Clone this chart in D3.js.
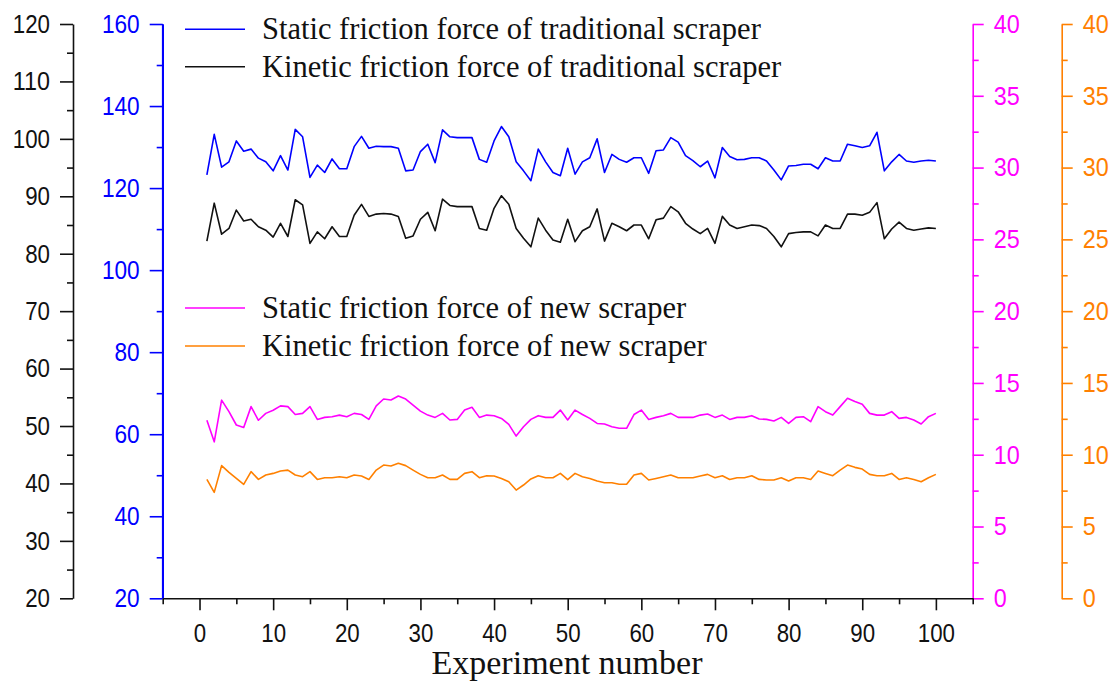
<!DOCTYPE html>
<html><head><meta charset="utf-8">
<script src="https://cdn.jsdelivr.net/npm/d3@7"></script>
<style>
body{margin:0;background:#fff;}
svg{display:block;}
</style></head>
<body><svg id="chart" width="1116" height="681"></svg>
<script>
const experiments = d3.range(1, 101);
const staticTrad = [123.2,133.1,125.1,126.4,131.5,129.0,129.5,127.3,126.4,124.2,127.9,124.4,134.3,132.5,122.6,125.6,123.8,127.1,124.7,124.7,
130.1,132.6,129.7,130.2,130.1,130.1,129.7,124.2,124.4,128.9,130.7,126.2,134.2,132.5,132.3,132.3,132.3,127.0,126.3,131.5,
135.0,132.5,126.4,124.2,121.8,129.5,126.4,123.8,123.0,129.7,123.4,126.4,127.4,132.0,123.8,128.2,127.0,126.3,127.4,127.4,
123.6,129.1,129.3,132.3,131.2,127.9,126.7,125.2,126.6,122.5,129.9,127.7,126.9,127.0,127.4,127.4,126.6,124.4,122.0,125.4,
125.5,125.8,125.8,124.7,127.4,126.6,126.6,130.7,130.3,129.9,130.3,133.6,124.2,126.4,128.2,126.6,126.3,126.6,126.8,126.6];
const kineticTrad = [82.2,88.8,83.4,84.4,87.6,85.7,86.0,84.7,84.1,82.9,85.3,83.0,89.4,88.5,81.8,83.8,82.6,84.7,83.0,83.0,
86.7,88.6,86.5,86.9,87.0,86.9,86.5,82.7,83.1,86.0,87.2,84.0,89.5,88.4,88.2,88.2,88.2,84.4,84.1,87.9,
90.1,88.6,84.4,82.7,81.2,86.2,84.1,82.4,82.0,86.0,82.1,84.0,84.7,87.8,82.2,85.3,84.7,84.0,85.0,85.0,
82.6,85.9,86.2,88.2,87.3,85.3,84.3,83.5,84.4,81.8,86.5,85.0,84.4,84.7,85.0,84.9,84.4,83.0,81.2,83.5,
83.7,83.8,83.8,83.1,85.0,84.4,84.4,86.9,86.9,86.7,87.2,88.9,82.6,84.3,85.5,84.4,84.1,84.3,84.5,84.4];
const staticNew = [12.4,10.9,13.8,13.0,12.07,11.9,13.35,12.4,12.88,13.1,13.4,13.35,12.8,12.88,13.35,12.46,12.6,12.65,12.76,12.65,
12.88,12.8,12.46,13.4,13.88,13.81,14.09,13.88,13.46,13.04,12.76,12.6,12.88,12.42,12.46,13.11,13.3,12.6,12.76,12.72,
12.53,12.11,11.3,11.95,12.46,12.72,12.6,12.6,13.11,12.42,13.11,12.8,12.53,12.18,12.14,11.95,11.84,11.84,12.8,13.11,
12.46,12.6,12.72,12.88,12.6,12.6,12.6,12.76,12.84,12.6,12.76,12.46,12.6,12.6,12.72,12.49,12.46,12.35,12.6,12.18,
12.6,12.65,12.3,13.35,13.0,12.76,13.35,13.93,13.7,13.51,12.88,12.76,12.76,13.0,12.53,12.6,12.42,12.14,12.65,12.88];
const kineticNew = [8.28,7.38,9.24,8.77,8.35,7.94,8.82,8.28,8.59,8.7,8.87,8.93,8.59,8.47,8.82,8.28,8.4,8.4,8.47,8.4,
8.59,8.52,8.28,8.93,9.28,9.21,9.4,9.24,8.93,8.63,8.4,8.4,8.59,8.28,8.28,8.7,8.82,8.4,8.54,8.52,
8.35,8.12,7.54,7.89,8.31,8.54,8.4,8.4,8.7,8.26,8.7,8.47,8.35,8.17,8.05,8.05,7.94,7.94,8.59,8.7,
8.24,8.35,8.47,8.59,8.4,8.4,8.4,8.52,8.63,8.4,8.54,8.28,8.4,8.4,8.54,8.28,8.24,8.24,8.4,8.17,
8.4,8.4,8.28,8.87,8.7,8.54,8.93,9.28,9.12,9.0,8.63,8.54,8.54,8.7,8.28,8.4,8.28,8.12,8.4,8.63];

const xTicks = d3.range(0, 101, 10);
const blackTicks = d3.range(20, 121, 10);
const blueTicks = d3.range(20, 161, 20);
const newTicks = d3.range(0, 41, 5);

const legendTrad = ["Static friction force of traditional scraper", "Kinetic friction force of traditional scraper"];
const legendNew = ["Static friction force of new scraper", "Kinetic friction force of new scraper"];
const xTitle = "Experiment number";

const C = {blue:"#0000ff", black:"#111111", mag:"#ff00ff", org:"#ff8000"};
const svg = d3.select("#chart");

const yTop = 24, yBottom = 598.3;
const x = d3.scaleLinear([-5, 105], [162.7, 972.7]);
const yBlack = d3.scaleLinear([20, 120], [yBottom, yTop]);
const yBlue = d3.scaleLinear([20, 160], [yBottom, yTop]);
const yMag = d3.scaleLinear([0, 40], [yBottom, yTop]);
const yOrg = d3.scaleLinear([0, 40], [yBottom, yTop]);

const tickFont = "'Liberation Sans Narrow','Liberation Sans',Arial,sans-serif";
function styleAxis(g, color, digitW) {
  g.select(".domain").attr("stroke", color).attr("stroke-width", 1.6);
  g.selectAll(".tick line").attr("stroke", color).attr("stroke-width", 1.6);
  g.selectAll(".tick text").attr("fill", color)
    .style("font-family", tickFont).style("font-size", "26px")
    .each(function(){ const t=d3.select(this); const s=t.text(); if(s) t.attr("textLength", s.length*digitW).attr("lengthAdjust","spacingAndGlyphs"); });
}
function minor(axisFn, scale, vals, color, transform) {
  const g = svg.append("g").attr("transform", transform)
    .call(axisFn(scale).tickValues(vals).tickSize(6).tickSizeOuter(0).tickFormat(""));
  g.select(".domain").remove();
  g.selectAll(".tick line").attr("stroke", color).attr("stroke-width", 1.6);
}

// black far-left axis
const gBlack = svg.append("g").attr("transform", "translate(73,0)")
  .call(d3.axisLeft(yBlack).tickValues(blackTicks).tickSize(13).tickSizeOuter(0).tickPadding(10));
styleAxis(gBlack, C.black, 12.4);
minor(d3.axisLeft, yBlack, d3.range(25, 120, 10), C.black, "translate(73,0)");

// blue axis
const gBlue = svg.append("g").attr("transform", "translate(162.7,0)")
  .call(d3.axisLeft(yBlue).tickValues(blueTicks).tickSize(13).tickSizeOuter(0).tickPadding(10));
styleAxis(gBlue, C.blue, 12.6);
minor(d3.axisLeft, yBlue, d3.range(30, 160, 20), C.blue, "translate(162.7,0)");

// magenta axis
const gMag = svg.append("g").attr("transform", "translate(972.7,0)")
  .call(d3.axisRight(yMag).tickValues(newTicks).tickSize(11).tickSizeOuter(0).tickPadding(10));
styleAxis(gMag, C.mag, 13);
minor(d3.axisRight, yMag, d3.range(2.5, 40, 5), C.mag, "translate(972.7,0)");

// orange axis
const gOrg = svg.append("g").attr("transform", "translate(1061.7,0)")
  .call(d3.axisRight(yOrg).tickValues(newTicks).tickSize(11).tickSizeOuter(0).tickPadding(10));
styleAxis(gOrg, C.org, 13);
minor(d3.axisRight, yOrg, d3.range(2.5, 40, 5), C.org, "translate(1061.7,0)");

// x axis
const gX = svg.append("g").attr("transform", `translate(0,${yBottom})`)
  .call(d3.axisBottom(x).tickValues(xTicks).tickSize(12).tickSizeOuter(0).tickPadding(13));
styleAxis(gX, C.black, 12.4);
minor(d3.axisBottom, x, d3.range(-5, 106, 10), C.black, `translate(0,${yBottom})`);
svg.append("line").attr("x1",162.7).attr("x2",162.7).attr("y1",yTop).attr("y2",yBottom).attr("stroke",C.blue).attr("stroke-width",1.6);

// lines
const series = [
  {vals: staticTrad, y: yBlue, color: C.blue},
  {vals: kineticTrad, y: yBlack, color: C.black},
  {vals: staticNew, y: yMag, color: C.mag},
  {vals: kineticNew, y: yOrg, color: C.org}
];
series.forEach(s => {
  const line = d3.line().x((d,i) => x(experiments[i])).y(d => s.y(d));
  svg.append("path").datum(s.vals).attr("d", line)
    .attr("fill", "none").attr("stroke", s.color).attr("stroke-width", 1.6).attr("stroke-linejoin", "round");
});

// legends
const serif = "'Liberation Serif','Times New Roman',serif";
function legend(items, colors, ys) {
  items.forEach((t, i) => {
    svg.append("line").attr("x1", 185).attr("x2", 245).attr("y1", ys[i]).attr("y2", ys[i])
      .attr("stroke", colors[i]).attr("stroke-width", 1.4);
    svg.append("text").attr("x", 262).attr("y", ys[i] + 10).text(t)
      .style("font-family", serif).style("font-size", "30.5px").attr("fill", "#111");
  });
}
legend(legendTrad, [C.blue, C.black], [29.3, 66.7]);
legend(legendNew, [C.mag, C.org], [308, 346]);

svg.append("text").attr("x", 567).attr("y", 674).attr("text-anchor", "middle").text(xTitle)
  .style("font-family", serif).style("font-size", "34px").attr("fill", "#111");
</script></body></html>
